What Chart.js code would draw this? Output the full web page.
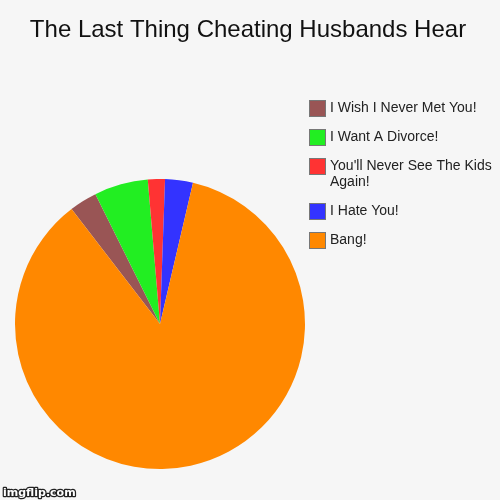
<!DOCTYPE html>
<html>
<head>
<meta charset="utf-8">
<script src="https://cdn.jsdelivr.net/npm/chart.js@4.4.0/dist/chart.umd.min.js"></script>
<style>
  html, body { margin: 0; padding: 0; background: #f6f6f6; }
  #wrap { width: 500px; height: 500px; position: relative; }
</style>
</head>
<body>
<div id="wrap"><canvas id="pieChart" width="500" height="500"></canvas></div>
<script>
// data, in clockwise order starting from the brown slice
const labels = ['I Wish I Never Met You!', 'I Want A Divorce!', "You'll Never See The Kids Again!", 'I Hate You!', 'Bang!'];
const values = [3.1, 6.0, 1.9, 3.1, 85.9];
const colors = ['#995555', '#22ee22', '#ff3333', '#3333ff', '#ff8800'];
const titleText = 'The Last Thing Cheating Husbands Hear';

// title, legend and watermark drawn by hand (the long legend label wraps)
const decorations = {
    id: 'decorations',
    afterDraw(chart) {
        const ctx = chart.ctx;
        ctx.save();

        // title across the full width
        ctx.font = '24px "Liberation Sans", Arial, sans-serif';
        ctx.fillStyle = '#111';
        ctx.textAlign = 'center';
        ctx.textBaseline = 'middle';
        ctx.fillText(titleText, 248, 30);

        // legend
        const maxW = 170;
        let y = 108;
        ctx.textAlign = 'left';
        ctx.font = '14px "Liberation Sans", Arial, sans-serif';
        labels.forEach((lab, i) => {
            const words = lab.split(' ');
            const lines = [];
            let cur = '';
            words.forEach(w => {
                const t = cur ? cur + ' ' + w : w;
                if (ctx.measureText(t).width > maxW && cur) {
                    lines.push(cur);
                    cur = w;
                } else {
                    cur = t;
                }
            });
            lines.push(cur);

            ctx.fillStyle = colors[i];
            ctx.fillRect(310, y - 7, 15, 15);
            ctx.strokeStyle = '#777';
            ctx.lineWidth = 1;
            ctx.strokeRect(309.5, y - 7.5, 16, 16);

            ctx.fillStyle = '#222';
            lines.forEach((ln, k) => {
                ctx.fillText(ln, 330, y + k * 16);
            });
            y += 29 + (lines.length - 1) * 16;
        });

        // watermark
        ctx.font = 'bold 11px "DejaVu Sans", sans-serif';
        ctx.textBaseline = 'alphabetic';
        ctx.lineWidth = 2.5;
        ctx.strokeStyle = '#222';
        ctx.lineJoin = 'round';
        ctx.strokeText('imgflip.com', 3, 496);
        ctx.fillStyle = '#fff';
        ctx.fillText('imgflip.com', 3, 496);
        ctx.restore();
    }
};

const ctxPie = document.getElementById('pieChart').getContext('2d');
const pieChart = new Chart(ctxPie, {
    type: 'pie',
    data: {
        labels: labels,
        datasets: [{
            data: values,
            backgroundColor: colors,
            borderWidth: 0
        }]
    },
    options: {
        responsive: false,
        animation: false,
        rotation: -37.6,
        layout: {
            padding: { left: 15, right: 195, top: 179, bottom: 31 }
        },
        plugins: {
            legend: { display: false },
            tooltip: { enabled: false },
            title: { display: false }
        }
    },
    plugins: [decorations]
});
</script>
</body>
</html>
